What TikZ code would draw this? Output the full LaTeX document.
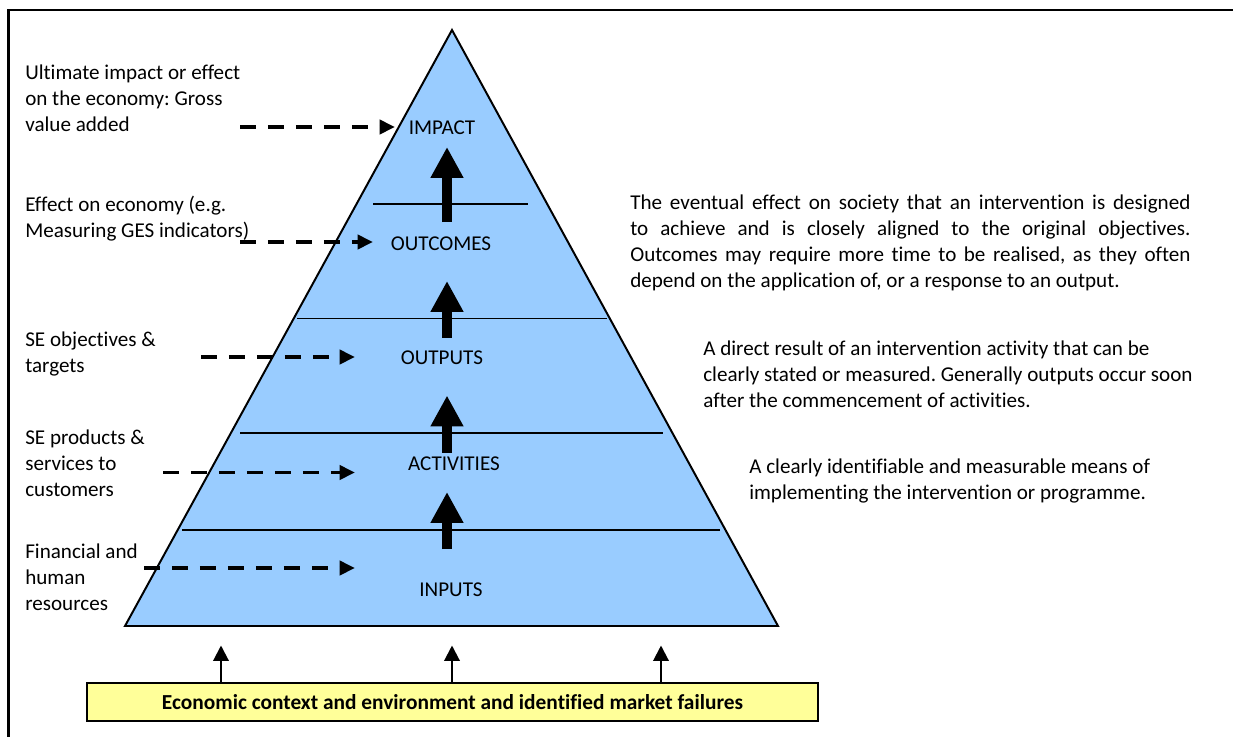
\documentclass[tikz,border=0pt]{standalone}
\usepackage{fontspec}
\setmainfont{Carlito}[Ligatures=NoCommon]
\usetikzlibrary{arrows.meta}
\definecolor{pyrblue}{HTML}{99CCFF}
\definecolor{ctxyellow}{HTML}{FFFF99}
\frenchspacing
\begin{document}
\begin{tikzpicture}[x=0.025cm, y=-0.025cm,
    font=\fontsize{15}{18.5}\selectfont,
    lbl/.style ={inner sep=0pt, align=left, anchor=west},
    lvl/.style ={inner sep=0pt},
    sepline/.style={line width=1.4pt},
    feed/.style ={line width=2.8pt, dash pattern=on 11.4pt off 8.5pt, -{Triangle[length=11pt,width=10pt]}},
    rise/.style ={line width=7.6pt, -{Triangle[length=22pt,width=22pt]}},
    ctx/.style ={line width=1.5pt, -{Triangle[length=11pt,width=11pt]}},
  ]
  \useasboundingbox (0,0) rectangle (1233,736);
  \draw[line width=1.5pt] (8.5,10) rectangle (1260,760);

  % pyramid
  \coordinate (apex) at (452,30);
  \coordinate (bl) at (125,626);
  \coordinate (br) at (778,626);
  \draw[fill=pyrblue, line width=1.4pt] (apex) -- (br) -- (bl) -- cycle;
  \draw[sepline] (373,204) -- (528,204);
  \draw[sepline] (297,318.5) -- (607,318.5);
  \draw[sepline] (240,433) -- (663,433);
  \draw[sepline] (182,530) -- (720,530);

  % levels
  \node[lvl] (impact) at (442,128) {IMPACT};
  \node[lvl] (outcomes) at (441,244) {OUTCOMES};
  \node[lvl] (outputs) at (442,358) {OUTPUTS};
  \node[lvl] (activities) at (454,464) {ACTIVITIES};
  \node[lvl] (inputs) at (451,590) {INPUTS};

  % big arrows between levels
  \foreach \n/\lo/\hi in {a/222/147, b/337.5/281, c/452.5/395.5, d/549/492}{
    \coordinate (rise\n0) at (447,\lo);
    \coordinate (rise\n1) at (447,\hi);
    \draw[rise] (rise\n0) -- (rise\n1);
  }

  % left hand descriptions
  \node[lbl] (gva) at (25,98) {Ultimate impact or effect\\on the economy: Gross\\value added};
  \node[lbl] (ges) at (25,219) {Effect on economy (e.g.\\Measuring GES indicators)};
  \node[lbl] (seobj) at (25,354) {SE objectives \&\\targets};
  \node[lbl] (seprod) at (25,463) {SE products \&\\services to\\customers};
  \node[lbl] (finres) at (25,577) {Financial and\\human\\resources};

  \foreach \n/\x/\tx/\y in {1/240/395/127, 2/240/373/242, 3/201/355/357, 4/163/355/472.5, 5/144/355/568}{
    \coordinate (fs\n) at (\x,\y);
    \coordinate (ft\n) at (\tx,\y);
    \draw[feed] (fs\n) -- (ft\n);
  }

  % right hand definitions
  \node[inner sep=0pt, anchor=west, text width=14cm, align=justify] (defout) at (630,242.5)
    {The eventual effect on society that an intervention is designed\linebreak
     to achieve and is closely aligned to the original objectives.\linebreak
     Outcomes may require more time to be realised, as they often\linebreak
     depend on the application of, or a response to an output.};
  \node[lbl] (defput) at (703,374) {A direct result of an intervention activity that can be\\clearly stated or measured. Generally outputs occur soon\\after the commencement of activities.};
  \node[lbl] (defact) at (749,481) {A clearly identifiable and measurable means of\\implementing the intervention or programme.};

  % context box
  \node[draw, line width=1.4pt, fill=ctxyellow, minimum width=731*0.025cm, minimum height=38*0.025cm,
        font=\fontsize{15.2}{17}\selectfont\bfseries] (ctx) at (452.5,702) {Economic context and environment and identified market failures};
  \foreach \x in {221,452,661}
    \draw[ctx] (ctx.north -| \x,0) -- (\x,645.5);
\end{tikzpicture}
\end{document}
